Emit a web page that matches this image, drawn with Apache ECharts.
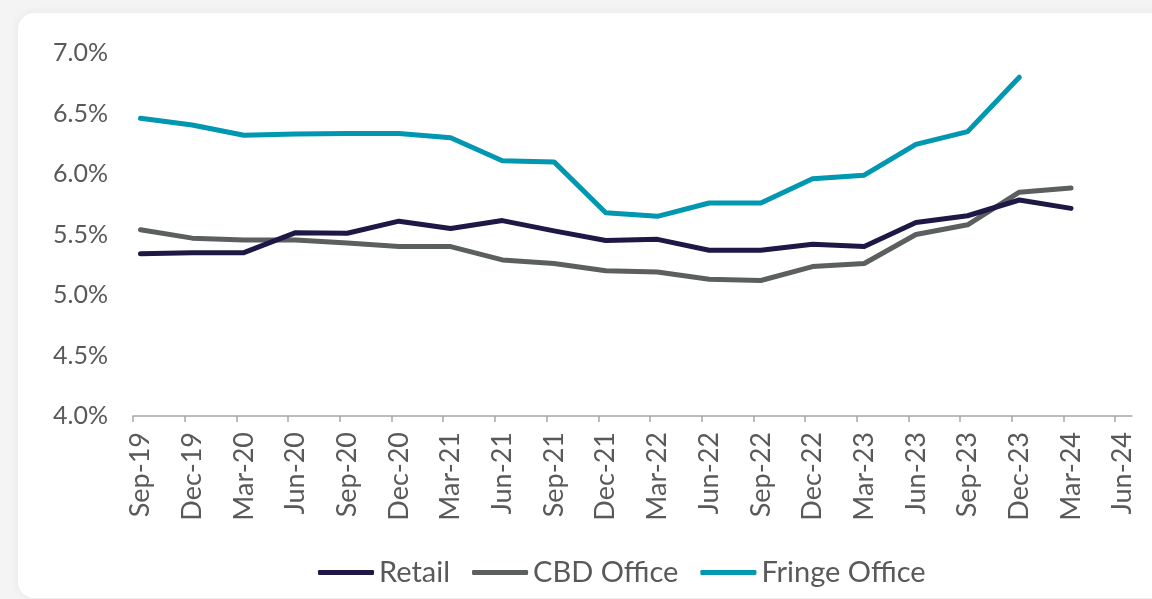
<!DOCTYPE html>
<html>
<head>
<meta charset="utf-8">
<script src="https://cdn.jsdelivr.net/npm/echarts@6/dist/echarts.min.js"></script>
<style>
  html, body { margin: 0; padding: 0; width: 1152px; height: 599px; overflow: hidden; background: #f4f4f4; }
  #card { position: absolute; left: 18px; top: 13px; width: 1160px; height: 585px; background: #ffffff;
          border-radius: 16px; box-shadow: 0 0 10px rgba(0,0,0,0.06); }
  #chart { position: absolute; left: 0; top: 0; width: 1152px; height: 599px; }
</style>
</head>
<body>
<div id="card"></div>
<div id="chart"></div>
<script>
// Quarterly yields by sector
const quarters = ['Sep-19','Dec-19','Mar-20','Jun-20','Sep-20','Dec-20','Mar-21','Jun-21','Sep-21',
  'Dec-21','Mar-22','Jun-22','Sep-22','Dec-22','Mar-23','Jun-23','Sep-23','Dec-23','Mar-24','Jun-24'];

const retail = [5.34, 5.35, 5.35, 5.515, 5.51, 5.61, 5.55, 5.615, 5.53, 5.45, 5.46, 5.37, 5.37,
  5.42, 5.40, 5.60, 5.655, 5.785, 5.716];
const cbdOffice = [5.54, 5.47, 5.455, 5.455, 5.43, 5.40, 5.40, 5.29, 5.26, 5.20, 5.19, 5.13, 5.12,
  5.235, 5.26, 5.50, 5.58, 5.85, 5.885];
const fringeOffice = [6.46, 6.405, 6.32, 6.33, 6.335, 6.335, 6.30, 6.11, 6.10, 5.68, 5.65, 5.76, 5.76,
  5.96, 5.99, 6.245, 6.35, 6.80];

const yTicks = [4.0, 4.5, 5.0, 5.5, 6.0, 6.5, 7.0];

const FONT = 'Lato';
const TEXT = '#595959';

// quarter index -> x value; tick marks sit slightly left of each data point
const TICK_SHIFT = 0.145;
const toPairs = arr => arr.map((v, i) => [i, v]);

const chart = echarts.init(document.getElementById('chart'), null, { renderer: 'canvas' });

chart.setOption({
  backgroundColor: 'transparent',
  animation: false,
  grid: { left: 133, right: 20, top: 53, bottom: 183, containLabel: false },
  legend: {
    top: 553,
    left: 313,
    icon: 'roundRect',
    itemWidth: 56,
    itemHeight: 5,
    itemGap: 22,
    textStyle: { fontFamily: FONT, fontSize: 29, color: TEXT },
    data: ['Retail', 'CBD Office', 'Fringe Office']
  },
  xAxis: {
    type: 'value',
    min: -TICK_SHIFT,
    max: 19.18,
    axisLine: { show: true, lineStyle: { color: '#a6a6a6', width: 1.5 } },
    axisTick: {
      show: true, inside: false, length: 6,
      lineStyle: { color: '#a6a6a6', width: 1.5 },
      customValues: quarters.map((q, i) => i - TICK_SHIFT)
    },
    axisLabel: {
      rotate: 90,
      margin: 16,
      fontFamily: FONT, fontSize: 27, color: TEXT,
      customValues: quarters.map((q, i) => i),
      formatter: v => quarters[Math.round(v)] || ''
    },
    splitLine: { show: false }
  },
  yAxis: {
    type: 'value',
    min: yTicks[0],
    max: yTicks[yTicks.length - 1],
    interval: 0.5,
    axisLine: { show: false },
    axisTick: { show: false },
    splitLine: { show: false },
    axisLabel: {
      margin: 25,
      fontFamily: FONT, fontSize: 25, color: TEXT,
      formatter: v => v.toFixed(1) + '%'
    }
  },
  series: [
    {
      name: 'Retail', type: 'line', data: toPairs(retail), symbol: 'none',
      lineStyle: { color: '#1d1845', width: 5, cap: 'round', join: 'round' },
      itemStyle: { color: '#1d1845' }, z: 3
    },
    {
      name: 'CBD Office', type: 'line', data: toPairs(cbdOffice), symbol: 'none',
      lineStyle: { color: '#5b5f60', width: 5, cap: 'round', join: 'round' },
      itemStyle: { color: '#5b5f60' }, z: 2
    },
    {
      name: 'Fringe Office', type: 'line', data: toPairs(fringeOffice), symbol: 'none',
      lineStyle: { color: '#0097b0', width: 5, cap: 'round', join: 'round' },
      itemStyle: { color: '#0097b0' }, z: 4
    }
  ]
});
</script>
</body>
</html>
